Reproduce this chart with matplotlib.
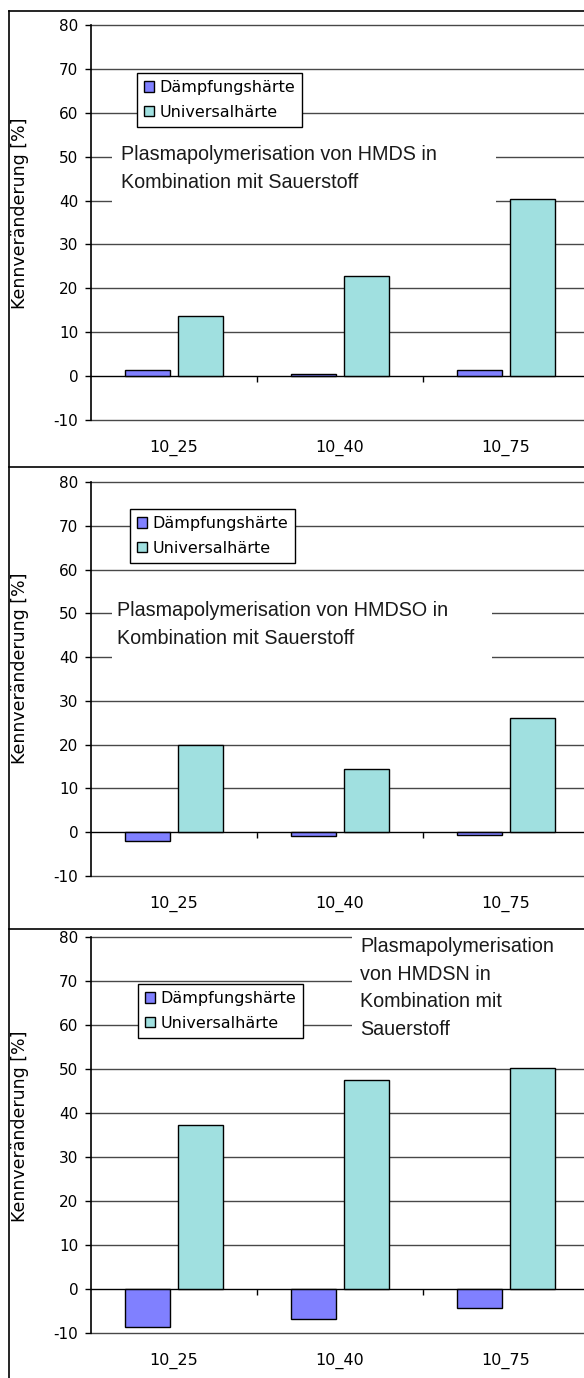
import matplotlib
matplotlib.use("Agg")
import matplotlib.pyplot as plt
from matplotlib.patches import Rectangle
from matplotlib.lines import Line2D

# Daten
kategorien = ["10_25", "10_40", "10_75"]
reihen = ["Dämpfungshärte", "Universalhärte"]

hmds_daempfung = [1.5, 0.5, 1.5]
hmds_universal = [13.6, 22.8, 40.4]

hmdso_daempfung = [-2.0, -0.9, -0.6]
hmdso_universal = [20.0, 14.4, 26.0]

hmdsn_daempfung = [-8.6, -6.8, -4.3]
hmdsn_universal = [37.3, 47.6, 50.2]

titel = [
    "Plasmapolymerisation von HMDS in\nKombination mit Sauerstoff",
    "Plasmapolymerisation von HMDSO in\nKombination mit Sauerstoff",
    "Plasmapolymerisation\nvon HMDSN in\nKombination mit\nSauerstoff",
]
ylabel = "Kennveränderung [%]"
yticks = [-10, 0, 10, 20, 30, 40, 50, 60, 70, 80]

W, H = 584, 1378
plt.rcParams['font.family'] = ['DejaVu Sans']
plt.rcParams['axes.unicode_minus'] = False
fig = plt.figure(figsize=(W / 100, H / 100), dpi=100)


def fx(x):
    return x / W


def fy(y):
    return 1 - y / H


farbe_d = "#8080ff"
farbe_u = "#a0e0e0"

# panel layout in pixels: (axes top, axes bottom, legend xy, title xy, white box, ylabel y)
panels = [
    (25, 420, (137, 73), (121, 145), (112, 135, 496, 216), 213),
    (482, 876, (130, 509), (117, 601), (112, 590, 492, 680), 668),
    (937, 1333, (138, 984), (360, 937), (352, 931, 584, 1060), 1126),
]
daten = [
    (hmds_daempfung, hmds_universal),
    (hmdso_daempfung, hmdso_universal),
    (hmdsn_daempfung, hmdsn_universal),
]

for (top, bot, leg, tit, box, ylab_y), (d, u), t in zip(panels, daten, titel):
    ax = fig.add_axes([fx(91), fy(bot), fx(589 - 91), (bot - top) / H])
    x = [i + 0.5 for i in range(len(kategorien))]
    ax.bar([v - 0.16 for v in x], d, width=0.27, color=farbe_d,
           edgecolor="black", linewidth=1, zorder=3, label=reihen[0])
    ax.bar([v + 0.16 for v in x], u, width=0.27, color=farbe_u,
           edgecolor="black", linewidth=1, zorder=3, label=reihen[1])
    ax.set_xlim(0, 3)
    ax.set_ylim(-10, 80)
    ax.set_yticks(yticks)
    ax.yaxis.grid(True, color="#484848", linewidth=1)
    for gl in ax.get_ygridlines():
        gl.set_clip_on(False)
    ax.set_axisbelow(True)
    for s in ["top", "right"]:
        ax.spines[s].set_visible(False)
    ax.spines["left"].set_linewidth(1.2)
    ax.spines["bottom"].set_position(("data", 0))
    ax.spines["bottom"].set_zorder(4)
    ax.set_xticks([1, 2])
    ax.set_xticklabels([])
    ax.tick_params(axis="x", direction="out", length=4, width=1)
    ax.tick_params(axis="y", direction="out", length=4, width=1, labelsize=11, pad=5)
    sec = ax.secondary_xaxis("bottom")
    sec.set_xticks(x)
    sec.set_xticklabels(kategorien)
    sec.tick_params(length=0, pad=14, labelsize=11.5)
    sec.spines["bottom"].set_visible(False)

    fig.text(fx(20), fy(ylab_y), ylabel, rotation=90, ha="center", va="center",
             fontsize=12.5)

    lg = ax.legend(loc="upper left", bbox_to_anchor=(fx(leg[0]), fy(leg[1])),
                   bbox_transform=fig.transFigure, borderaxespad=0,
                   fancybox=False, shadow=False, framealpha=1, edgecolor="black",
                   fontsize=11.5, handlelength=0.6, handleheight=0.6,
                   handletextpad=0.35, borderpad=0.45, labelspacing=0.6)
    lg.get_frame().set_linewidth(1)
    lg.set_zorder(5)

    fig.add_artist(Rectangle((fx(box[0]), fy(box[3])), fx(box[2] - box[0]),
                             (box[3] - box[1]) / H, facecolor="white",
                             edgecolor="none", transform=fig.transFigure, zorder=2))
    fig.text(fx(tit[0]), fy(tit[1]), t, ha="left", va="top", fontsize=14.2,
             family=["Liberation Sans", "DejaVu Sans"], color="#1a1a1a",
             linespacing=1.58, zorder=6)

# Rahmen
for y in [11, 467, 929]:
    fig.add_artist(Line2D([fx(9), 1], [fy(y), fy(y)], color="black", lw=1.2, zorder=7))
fig.add_artist(Line2D([fx(9), fx(9)], [fy(11), 0], color="black", lw=1.2, zorder=7))

fig.savefig("out.png", dpi=100)
